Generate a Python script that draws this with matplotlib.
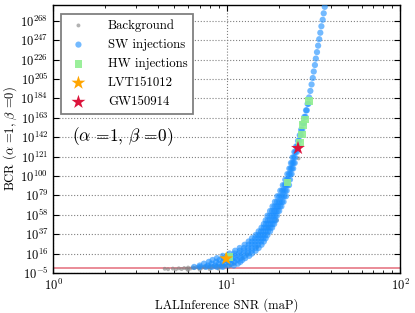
import matplotlib
matplotlib.use("Agg")
import matplotlib.pyplot as plt
import numpy as np
from matplotlib.ticker import FixedLocator, FixedFormatter, NullLocator

plt.rcParams['font.family'] = 'serif'
plt.rcParams['font.serif'] = ['cmr10', 'DejaVu Serif']
plt.rcParams['mathtext.fontset'] = 'cm'
plt.rcParams['axes.unicode_minus'] = False

# ---- data: SNR and log10(BCR) ----
bg_snr = [4.4, 4.6, 4.9, 5.1, 5.3, 5.5, 5.7, 5.9, 6.0, 6.2, 6.4, 6.5, 6.7, 6.9, 7.0,
          7.2, 7.4, 7.5, 7.7, 7.9, 8.0, 8.2, 8.4, 8.6, 8.8, 9.0, 9.2, 9.4, 9.6, 9.8,
          10.0, 6.0, 7.0, 8.0, 9.0, 10.5, 11.0, 12.4, 13.2, 15.0, 17.3, 19.5, 26.0]
bg_logbcr = [-0.5, -1.0, -0.3, -1.2, 0.0, -0.8, 0.3, -0.5, 0.8, -0.2, 1.0, 0.2, 1.3, 0.4, 1.6,
             0.6, 1.8, 0.9, 2.0, 1.1, 2.2, 1.3, 2.5, 1.5, 2.8, 1.7, 3.0, 2.0, 3.2, 2.2,
             3.0, -2.0, -1.5, -1.0, -0.5, 2.5, 4.5, 11.0, 15.0, 23.0, 44.0, 52.0, 119.0]

# SW injections: log10(BCR) levels and the SNR values observed at each level
sw_levels = [1.5, 3, 5, 7, 9, 11, 13.5, 16, 19, 22, 25.5, 29, 32.5, 36, 40, 44, 48, 52,
             57, 62, 67, 72, 78, 84, 90, 96, 102, 108, 114, 120, 126, 132, 138, 144,
             150, 157, 164, 171, 178, 185, 192, 199, 206, 213, 220, 227, 234, 241,
             248, 255, 262, 269, 276, 283]
sw_snr_rows = [
    [6.5, 7.0, 7.6, 8.2, 8.8, 9.5],
    [7.0, 7.8, 8.6, 9.4, 10.2, 11.0],
    [7.4, 8.2, 9.0, 9.8, 10.6, 11.6],
    [7.9, 8.7, 9.5, 10.3, 11.1, 12.0],
    [8.3, 9.1, 9.9, 10.7, 11.5, 12.3],
    [8.8, 9.6, 10.4, 11.2, 12.0, 12.8],
    [9.5, 10.3, 11.1, 11.9, 12.7, 13.5],
    [10.4, 11.1, 11.8, 12.5, 13.3, 14.0],
    [11.2, 11.9, 12.6, 13.3, 14.0, 14.7],
    [11.9, 12.6, 13.3, 14.0, 14.7, 15.3],
    [12.7, 13.4, 14.0, 14.6, 15.2, 15.9],
    [13.4, 14.0, 14.6, 15.2, 15.8, 16.4],
    [14.0, 14.6, 15.2, 15.8, 16.3, 16.8],
    [14.7, 15.2, 15.7, 16.2, 16.7, 17.2],
    [15.3, 15.8, 16.3, 16.8, 17.3, 17.8],
    [15.9, 16.4, 16.9, 17.4, 17.9, 18.3],
    [16.4, 16.9, 17.4, 17.9, 18.4, 18.8],
    [16.8, 17.3, 17.8, 18.3, 18.8, 19.2],
    [17.2, 17.7, 18.2, 18.7, 19.1, 19.5],
    [17.8, 18.3, 18.8, 19.2, 19.7, 20.1],
    [18.4, 18.9, 19.4, 19.8, 20.3, 20.7],
    [19.0, 19.5, 20.0, 20.4, 20.9, 21.3],
    [19.6, 20.1, 20.6, 21.0, 21.5, 22.0],
    [20.4, 20.9, 21.3, 21.8, 22.2],
    [21.1, 21.6, 22.0, 22.5, 22.9],
    [21.8, 22.3, 22.7, 23.2],
    [22.4, 22.9, 23.3, 23.7],
    [23.0, 23.4, 23.8, 24.2],
    [23.5, 23.9, 24.3, 24.7],
    [24.0, 24.4, 24.8],
    [24.6, 25.0, 25.4],
    [25.2, 25.6, 26.0],
    [25.8, 26.2],
    [26.4, 26.8],
    [26.9, 27.3],
    [27.5, 27.9],
    [28.1, 28.5],
    [28.7, 29.0],
    [29.3, 29.6],
    [29.9], [30.4], [30.9], [31.4], [31.8], [32.3], [32.7], [33.2], [33.7],
    [34.2], [34.7], [35.2], [35.8], [36.3], [36.8],
]

hw_snr = [10.3, 22.4, 26.5, 27.3, 27.6, 28.4, 29.8]
hw_logbcr = [12.0, 93.0, 136.0, 145.0, 155.0, 161.0, 181.0]

lvt_snr, lvt_logbcr = [9.95], [10.5]
gw_snr, gw_logbcr = [25.8], [130.0]

ytick_exp = list(range(-5, 269, 21))

sw_snr = [s for row in sw_snr_rows for s in row]
sw_logbcr = [lv for lv, row in zip(sw_levels, sw_snr_rows) for _ in row]

fig = plt.figure(figsize=(4.15, 3.13), dpi=100)
ax = fig.add_axes([0.128, 0.128, 0.836, 0.856])

def p(v):
    return np.power(10.0, np.array(v, dtype=float))

ax.axhline(1.0, color='#e8828f', lw=1.3, zorder=1)
ax.scatter(bg_snr, p(bg_logbcr), s=8, color='gray', alpha=0.6, edgecolors='none',
           label='Background', zorder=2)
ax.scatter(sw_snr, p(sw_logbcr), s=20, color='#1e90ff', alpha=0.62, edgecolors='none',
           label='SW injections', zorder=3)
ax.scatter(hw_snr, p(hw_logbcr), s=30, marker='s', color='#90ee90', alpha=0.9,
           edgecolors='none', label='HW injections', zorder=4)
ax.scatter(lvt_snr, p(lvt_logbcr), s=110, marker='*', color='#ffa500',
           edgecolors='none', label='LVT151012', zorder=5)
ax.scatter(gw_snr, p(gw_logbcr), s=110, marker='*', color='#dc143c',
           edgecolors='none', label='GW150914', zorder=5)

ax.set_xscale('log')
ax.set_yscale('log')
ax.set_xlim(1, 100)
ax.set_ylim(1e-5, 10.0 ** 285)

ax.yaxis.set_major_locator(FixedLocator([10.0 ** e for e in ytick_exp]))
ax.yaxis.set_major_formatter(FixedFormatter([r'$10^{%d}$' % e for e in ytick_exp]))
ax.yaxis.set_minor_locator(NullLocator())
ax.set_xticks([1, 10, 100])
ax.set_xticklabels([r'$10^{0}$', r'$10^{1}$', r'$10^{2}$'])

ax.tick_params(which='both', direction='in', top=True, right=True, labelsize=9)
ax.tick_params(which='major', length=4)
ax.tick_params(which='minor', length=2)
ax.grid(True, which='major', linestyle=':', color='gray', lw=0.8)
for sp in ax.spines.values():
    sp.set_linewidth(1.0)

ax.set_xlabel('LALInference SNR (maP)', fontsize=9)
ax.set_ylabel(r'BCR ($\alpha$ =1, $\beta$ =0)', fontsize=9, labelpad=1)

ax.text(0.055, 0.51, r'($\alpha$ =1, $\beta$ =0)', transform=ax.transAxes,
        fontsize=12.5, va='center', ha='left')

leg = ax.legend(loc='upper left', scatterpoints=1, fontsize=9.2, fancybox=False,
                framealpha=1, edgecolor='gray', borderpad=0.4, handletextpad=1.3,
                labelspacing=0.55, bbox_to_anchor=(0.003, 0.99))
leg.get_frame().set_linewidth(1.3)

fig.savefig('out.png', dpi=100)
